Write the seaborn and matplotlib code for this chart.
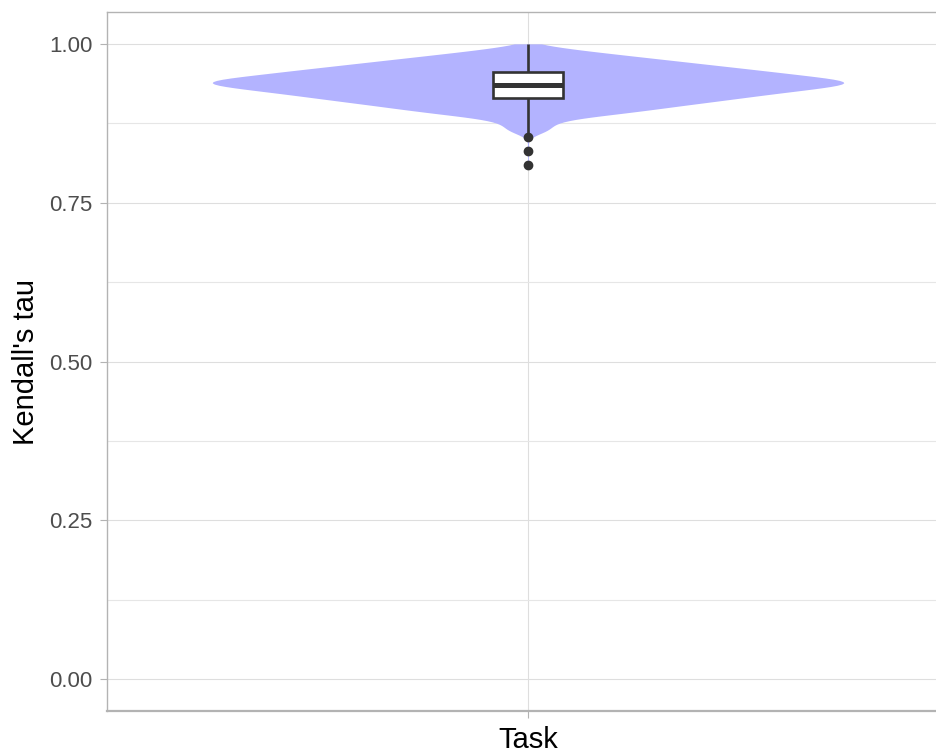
import numpy as np
import pandas as pd
import seaborn as sns
import matplotlib.pyplot as plt
from matplotlib.ticker import MultipleLocator

# Kendall's tau values observed for the task, as a frequency table
tau_values = [0.860, 0.865, 0.870, 0.875, 0.880, 0.885, 0.890, 0.895, 0.900, 0.905,
              0.910, 0.915, 0.920, 0.925, 0.930, 0.935, 0.940, 0.945, 0.950, 0.955,
              0.960, 0.965, 0.970, 0.975, 0.980, 0.985, 0.990, 0.995, 1.000]
tau_counts = [5, 7, 7, 8, 11, 18, 28, 35, 42, 49,
              57, 64, 71, 79, 87, 95, 100, 92, 83, 75,
              67, 58, 50, 41, 33, 24, 16, 8, 2]
# a few isolated low values
low_taus = [0.853, 0.832, 0.810]

category = "Task"
y_ticks = [0.00, 0.25, 0.50, 0.75, 1.00]
y_tick_labels = ["0.00", "0.25", "0.50", "0.75", "1.00"]

taus = np.concatenate([np.repeat(tau_values, tau_counts), low_taus])
df = pd.DataFrame({"group": category, "tau": taus})

sns.set_theme(style="white")
plt.rcParams["font.family"] = ["Liberation Sans", "DejaVu Sans"]

fig = plt.figure(figsize=(9.36, 7.54), dpi=100)
# panel runs slightly past the right edge of the canvas
ax = fig.add_axes([0.1143, 0.057, 0.8996, 0.927])

sns.violinplot(data=df, x="group", y="tau", ax=ax, color="#B3B3FF", saturation=1,
               inner=None, cut=0, density_norm="width", width=0.9,
               bw_adjust=0.85, linewidth=0)
sns.boxplot(data=df, x="group", y="tau", ax=ax, width=0.1, color="white",
            saturation=1, linecolor="#333333", linewidth=1.9, showcaps=False,
            fliersize=6,
            medianprops=dict(linewidth=3.6, color="#333333"),
            flierprops=dict(marker="o", markerfacecolor="#333333",
                            markeredgecolor="#333333"))

ax.set_xlim(-0.6, 0.6)
ax.set_ylim(-0.05, 1.05)
ax.set_yticks(y_ticks)
ax.set_yticklabels(y_tick_labels)
ax.yaxis.set_minor_locator(MultipleLocator(0.125))

ax.set_axisbelow(True)
ax.grid(True, which="major", axis="both", color="#dedede", linewidth=0.8)
ax.grid(True, which="minor", axis="y", color="#e6e6e6", linewidth=0.8)

for side in ("left", "top", "bottom"):
    ax.spines[side].set_visible(True)
    ax.spines[side].set_color("#b3b3b3")
ax.spines["left"].set_linewidth(1.0)
ax.spines["top"].set_linewidth(1.0)
ax.spines["bottom"].set_linewidth(1.6)
ax.spines["right"].set_visible(False)

ax.tick_params(axis="y", which="major", left=True, length=5, width=0.8,
               color="#b3b3b3", labelsize=16, labelcolor="#4d4d4d", pad=5.5)
ax.tick_params(axis="y", which="minor", left=False)
ax.tick_params(axis="x", bottom=True, length=5, width=0.8, color="#b3b3b3",
               labelsize=21, labelcolor="black", pad=6)

ax.set_xlabel("")
ax.set_ylabel("Kendall's tau", fontsize=21, color="black", labelpad=6.5)

fig.savefig("out.png", dpi=100)
